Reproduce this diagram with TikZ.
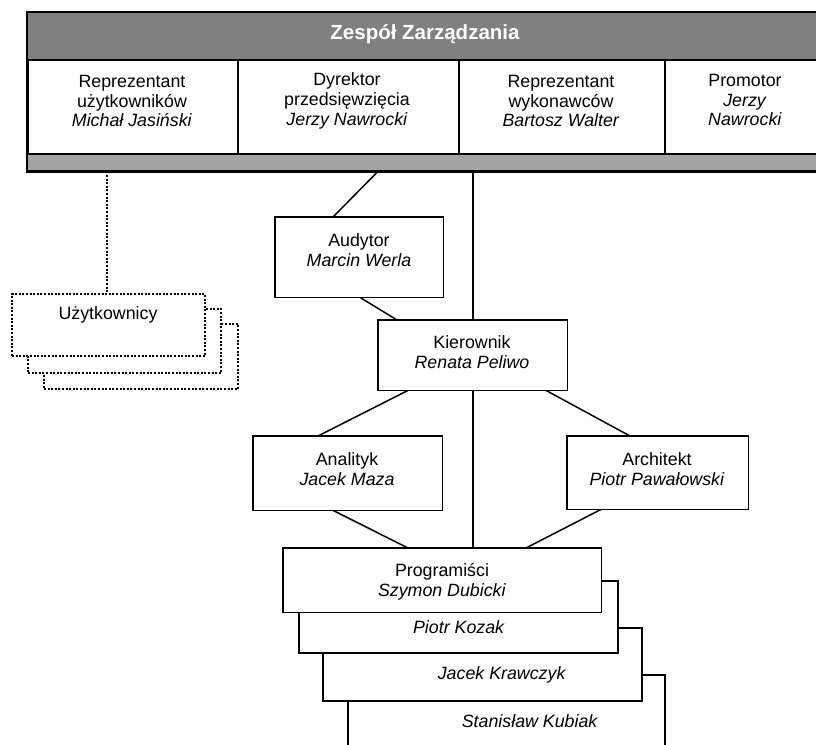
\documentclass[tikz,border=0pt]{standalone}
\usepackage{fontspec}
\setmainfont{Liberation Sans}
\usetikzlibrary{calc}
\definecolor{hdrgray}{rgb}{0.50,0.50,0.50}
\definecolor{bandgray}{rgb}{0.64,0.64,0.64}
\begin{document}
\begin{tikzpicture}[x=1pt,y=-1pt,
  box/.style={draw, line width=1.6pt, fill=white, inner sep=0pt, anchor=north west},
  col/.style={draw, line width=1.8pt, fill=white, inner sep=0pt, anchor=north west, minimum height=95pt},
  txt/.style={align=center, inner sep=0pt, font=\fontsize{17.8}{19.8}\selectfont},
  con/.style={line width=1.5pt},
  dotcon/.style={line width=2pt, dash pattern=on 2pt off 1.6pt},
  dotb/.style={draw, line width=2pt, dash pattern=on 2pt off 1.6pt, fill=white, inner sep=0pt, anchor=north west},
]
\useasboundingbox (0,0) rectangle (816,744);
\clip (0,0) rectangle (816,744);
\fill[white] (0,0) rectangle (816,744);

% ---- management panel ----
\node[fill=hdrgray, inner sep=0pt, anchor=north west, minimum width=803pt, minimum height=47pt] (hdr) at (27,12) {};
\node[text=white, inner sep=0pt, font=\bfseries\fontsize{20.5}{24}\selectfont] (hdrt) at (425,34) {Zespół Zarządzania};
\node[col, minimum width=210pt] (c1) at (27,59) {};
\node[col, minimum width=221pt] (c2) at (237,59) {};
\node[col, minimum width=206pt] (c3) at (458,59) {};
\node[col, minimum width=166pt] (c4) at (664,59) {};
\node[fill=bandgray, inner sep=0pt, anchor=north west, minimum width=803pt, minimum height=17pt] (band) at (27,154) {};
\draw[line width=2.6pt] (hdr.north east) -- (hdr.north west) -- (band.south west) -- (band.south east);
\draw[line width=1.8pt] (band.north west) -- (band.north east);
\draw[line width=1.8pt] (hdr.south west) -- (hdr.south east);

\node[txt] (c1t) at (132,101) {Reprezentant\\użytkowników\\\textit{Michał Jasiński}};
\node[txt] (c2t) at (347,101) {Dyrektor\\przedsięwzięcia\\\textit{Jerzy Nawrocki}};
\node[txt] (c3t) at (561,101) {Reprezentant\\wykonawców\\\textit{Bartosz Walter}};
\node[txt] (c4t) at (745,100) {Promotor\\\textit{Jerzy}\\\textit{Nawrocki}};

% ---- users (dotted stack) ----
\node[dotb, minimum width=194pt, minimum height=65pt] (u3) at (43,323) {};
\node[dotb, minimum width=193pt, minimum height=64pt] (u2) at (27,308) {};
\node[dotb, minimum width=193pt, minimum height=62pt] (u1) at (11,293) {};
\node[txt] (u1t) at (108,315) {Użytkownicy};
\draw[dotcon] ($(band.south west)+(80,0)$) -- ($(u1.north west)+(96,0)$);

% vertical trunk
\coordinate (vtop) at ($(band.south west)+(446,0)$);
\path (275,217) coordinate (audNW) (378,320) coordinate (kierNW) (253,436) coordinate (anaNW)
      (567,436) coordinate (arcNW) (283,548) coordinate (progNW);

% stack of programmers (back to front)
\node[box, minimum width=317pt, minimum height=90pt] (kub) at (347,674) {};
\node[box, minimum width=319pt, minimum height=73pt] (kraw) at (322,627) {};
\node[box, minimum width=319pt, minimum height=72pt] (koz) at (298,580) {};
\node[txt] (kubt) at (530,721) {\textit{Stanisław Kubiak}};
\node[txt] (krawt) at (502,675) {\textit{Jacek Krawczyk}};
\node[txt] (kozt) at (459,627) {\textit{Piotr Kozak}};

% main boxes (outline drawn after connectors)
\path node[inner sep=0pt, anchor=north west, minimum width=168pt, minimum height=80pt] (aud) at (audNW) {}
      node[inner sep=0pt, anchor=north west, minimum width=189pt, minimum height=70pt] (kier) at (kierNW) {}
      node[inner sep=0pt, anchor=north west, minimum width=189pt, minimum height=74pt] (ana) at (anaNW) {}
      node[inner sep=0pt, anchor=north west, minimum width=181pt, minimum height=73pt] (arc) at (arcNW) {}
      node[inner sep=0pt, anchor=north west, minimum width=318pt, minimum height=64pt] (prog) at (progNW) {};

\draw[con] (vtop) -- (vtop |- prog.north);
\draw[con] ($(band.south west)+(351,0)$) -- ($(aud.north west)+(58,0)$);
\draw[con] ($(aud.south west)+(85,0)$) -- ($(kier.north west)+(19,0)$);
\draw[con] ($(kier.south west)+(30,0)$) -- ($(ana.north west)+(65,0)$);
\draw[con] ($(kier.south west)+(168,0)$) -- ($(arc.north west)+(63,0)$);
\draw[con] ($(ana.south west)+(80,0)$) -- ($(prog.north west)+(125,0)$);
\draw[con] ($(arc.south west)+(34,0)$) -- ($(prog.north west)+(243,0)$);

\draw[line width=1.6pt, fill=white] (aud.north west) rectangle (aud.south east);
\draw[line width=1.6pt, fill=white] (kier.north west) rectangle (kier.south east);
\draw[line width=1.6pt, fill=white] (ana.north west) rectangle (ana.south east);
\draw[line width=1.6pt, fill=white] (arc.north west) rectangle (arc.south east);
\draw[line width=1.6pt, fill=white] (prog.north west) rectangle (prog.south east);

\node[txt] (audt) at (359,250) {Audytor\\\textit{Marcin Werla}};
\node[txt] (kiert) at (472,352) {Kierownik\\\textit{Renata Peliwo}};
\node[txt] (anat) at (347,469) {Analityk\\\textit{Jacek Maza}};
\node[txt] (arct) at (657,469) {Architekt\\\textit{Piotr Pawałowski}};
\node[txt] (progt) at (442,582) {Programiści\\\textit{Szymon Dubicki}};
\end{tikzpicture}
\end{document}
